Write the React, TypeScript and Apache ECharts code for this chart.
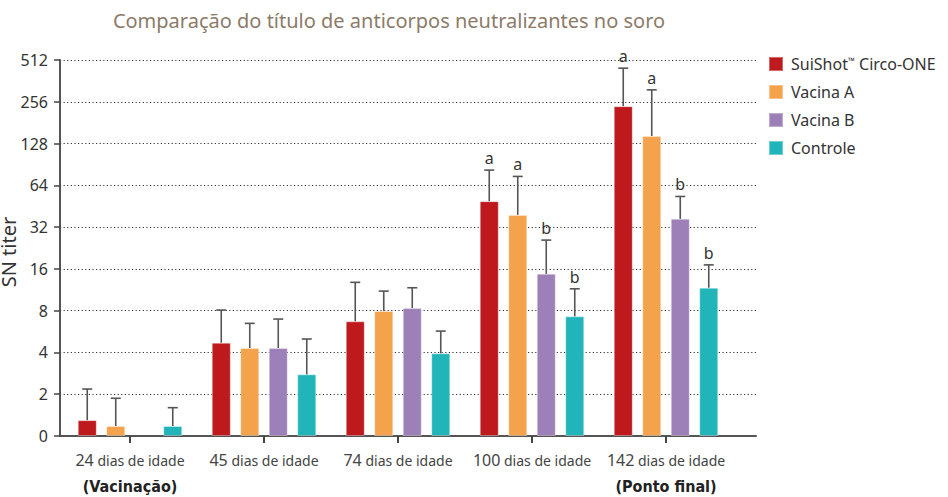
import React, { useEffect, useRef } from "react";
import * as echarts from "echarts";

const categories = ["24", "45", "74", "100", "142"];
const categoryNotes = ["(Vacinação)", "", "", "", "(Ponto final)"];
const seriesNames = ["SuiShot™ Circo-ONE", "Vacina A", "Vacina B", "Controle"];
const seriesColors = ["#BE1A1D", "#F5A24C", "#9D80B8", "#21B5BA"];
const yAxisTitle = "SN titer";

// mean SN titer per group
const suishotMean = [1.3, 4.7, 6.7, 49.2, 238];
const vacinaAMean = [1.18, 4.3, 7.95, 39.2, 145];
const vacinaBMean = [null, 4.3, 8.35, 14.75, 36.7];
const controleMean = [1.18, 2.78, 3.94, 7.28, 11.7];

// upper end of the error bar
const suishotUpper = [2.18, 8.08, 12.8, 82.4, 447];
const vacinaAUpper = [1.87, 6.48, 11.07, 74.2, 312];
const vacinaBUpper = [null, 6.96, 11.7, 25.8, 53.2];
const controleUpper = [1.6, 5.0, 5.7, 11.5, 17.1];

// significance letters
const suishotLetters = ["", "", "", "a", "a"];
const vacinaALetters = ["", "", "", "a", "a"];
const vacinaBLetters = ["", "", "", "b", "b"];
const controleLetters = ["", "", "", "b", "b"];

const yTicks = [1, 2, 4, 8, 16, 32, 64, 128, 256, 512];

const means = [suishotMean, vacinaAMean, vacinaBMean, controleMean];
const uppers = [suishotUpper, vacinaAUpper, vacinaBUpper, controleUpper];
const letters = [suishotLetters, vacinaALetters, vacinaBLetters, controleLetters];

const BAR_W = 19;
const BAR_STEP = 28.5;

export default function App() {
  const ref = useRef<HTMLDivElement>(null);
  useEffect(() => {
    document.body.style.margin = "0";
    const chart = echarts.init(ref.current!, null, { renderer: "svg" });
    const font = "'Noto Sans', sans-serif";

    const errRecords: any[] = [];
    means.forEach((m, s) => {
      m.forEach((v, c) => {
        const u = uppers[s][c];
        if (v == null || u == null) return;
        errRecords.push({ value: [c, v, u, s], letter: letters[s][c] });
      });
    });

    const barSeries = means.map((m, s) => ({
      name: seriesNames[s],
      type: "bar",
      xAxisIndex: 1,
      yAxisIndex: 1,
      barWidth: BAR_W,
      barGap: "50%",
      itemStyle: {
        color: seriesColors[s],
        borderColor: "rgba(255,255,255,0.35)",
        borderWidth: 1,
      },
      data: m.map((v) => (v == null ? "-" : v)),
    }));

    const option: any = {
      animation: false,
      title: {
        text: "Comparação do título de anticorpos neutralizantes no soro",
        left: 384,
        top: 5,
        textAlign: "center",
        textStyle: {
          fontFamily: font,
          fontSize: 20,
          fontWeight: "normal",
          color: "#8C7B69",
        },
      },
      graphic: [
        {
          type: "text",
          x: 8,
          y: 252,
          rotation: Math.PI / 2,
          style: {
            text: yAxisTitle,
            textAlign: "center",
            textVerticalAlign: "middle",
            fontFamily: font,
            fontSize: 20,
            fill: "#333",
          },
        },
      ],
      legend: {
        orient: "vertical",
        left: 768,
        top: 56,
        padding: 0,
        icon: "rect",
        itemWidth: 14,
        itemHeight: 14,
        itemGap: 12,
        data: seriesNames,
        formatter: (name: string) =>
          name.indexOf("™") >= 0 ? name.replace("™", "{tm|™}") : name,
        textStyle: {
          fontFamily: font,
          fontSize: 16,
          lineHeight: 16,
          color: "#333",
          padding: [0, 0, 0, 3],
          rich: {
            tm: { fontSize: 9, lineHeight: 16, verticalAlign: "top", color: "#333", fontFamily: font, padding: [0, 0, 6, 0] },
          },
        },
      },
      grid: [
        { left: 60, top: 60, width: 696, height: 376, outerBoundsMode: "none", containLabel: false },
        { left: 63, top: 60, width: 670, height: 376, outerBoundsMode: "none", containLabel: false },
      ],
      xAxis: [
        {
          gridIndex: 0,
          type: "value",
          min: 0,
          max: 1,
          axisLine: { show: true, lineStyle: { color: "#555", width: 2 } },
          axisTick: { show: false },
          axisLabel: { show: false },
          splitLine: { show: false },
        },
        {
          gridIndex: 1,
          type: "category",
          data: categories,
          axisLine: { show: false },
          axisTick: {
            show: true,
            alignWithLabel: true,
            length: 7,
            lineStyle: { color: "#444", width: 2 },
          },
          axisLabel: {
            margin: 12,
            interval: 0,
            formatter: (v: string, i: number) => {
              const note = categoryNotes[i];
              return `{num|${v}}{txt| dias de idade}` + (note ? `\n{note|${note}}` : "");
            },
            rich: {
              num: { fontFamily: font, fontSize: 16, color: "#444", lineHeight: 24 },
              txt: { fontFamily: font, fontSize: 14, color: "#444", lineHeight: 24 },
              note: {
                fontFamily: "'DejaVu Sans Condensed', 'Liberation Sans Narrow', sans-serif",
                fontSize: 16,
                fontWeight: "bold",
                color: "#222",
                lineHeight: 28,
              },
            },
          },
        },
      ],
      yAxis: [
        {
          gridIndex: 0,
          type: "log",
          logBase: 2,
          min: 1,
          max: 512,
          axisLine: { show: true, lineStyle: { color: "#555", width: 2 } },
          axisTick: { show: true, inside: false, length: 6, lineStyle: { color: "#444", width: 1.5 } },
          axisLabel: {
            margin: 12,
            fontFamily: font,
            fontSize: 16,
            color: "#333",
            formatter: (v: number) => {
              const r = Math.round(v);
              return r === yTicks[0] ? "0" : String(r);
            },
          },
          splitLine: { show: true, lineStyle: { type: [1.2, 2.4], color: "#333", width: 1 } },
        },
        {
          gridIndex: 1,
          type: "log",
          logBase: 2,
          min: 1,
          max: 512,
          show: false,
          splitLine: { show: false },
        },
      ],
      series: [
        ...barSeries,
        {
          type: "custom",
          xAxisIndex: 1,
          yAxisIndex: 1,
          z: 5,
          data: errRecords,
          encode: { x: 0, y: 2 },
          renderItem: (params: any, api: any) => {
            const rec = errRecords[params.dataIndex];
            const [c, v, u, s] = rec.value;
            const base = api.coord([c, v]);
            const top = api.coord([c, u]);
            const x = base[0] + (s - 1.5) * BAR_STEP;
            const children: any[] = [
              {
                type: "line",
                shape: { x1: x, y1: base[1], x2: x, y2: top[1] },
                style: { stroke: "#555", lineWidth: 1.6 },
              },
              {
                type: "line",
                shape: { x1: x - 5, y1: top[1], x2: x + 5, y2: top[1] },
                style: { stroke: "#555", lineWidth: 1.6 },
              },
            ];
            if (rec.letter) {
              children.push({
                type: "text",
                x: x,
                y: top[1] - 4,
                style: {
                  text: rec.letter,
                  textAlign: "center",
                  textVerticalAlign: "bottom",
                  fontFamily: font,
                  fontSize: 16,
                  fill: "#333",
                },
              });
            }
            return { type: "group", children };
          },
        },
      ],
    };
    chart.setOption(option);
    return () => chart.dispose();
  }, []);
  return <div ref={ref} style={{ width: 948, height: 497 }} />;
}
